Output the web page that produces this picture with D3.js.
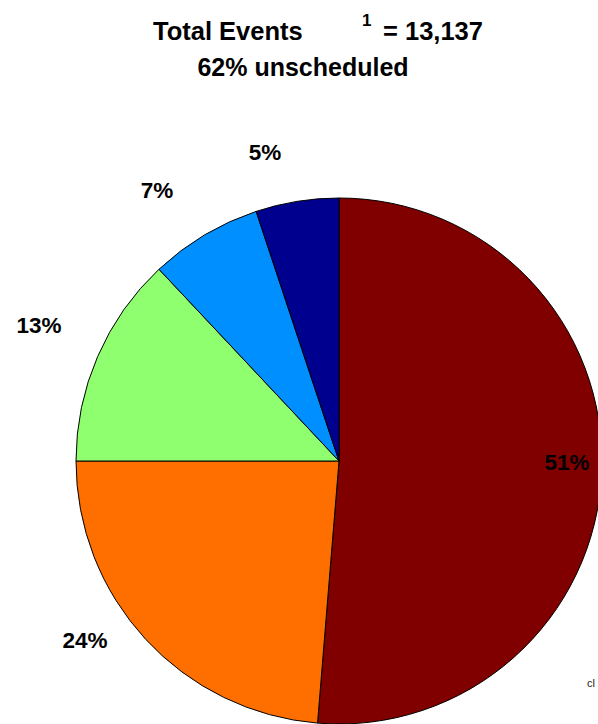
<!DOCTYPE html>
<html><head><meta charset="utf-8">
<script src="https://cdn.jsdelivr.net/npm/d3@7"></script>
<style>body{margin:0;background:#fff;overflow:hidden}</style>
</head><body>
<script>
const categories = ["A","B","C","D","E"];
const values = [51.3, 23.7, 13.0, 6.9, 5.1];
const labels = ["51%","24%","13%","7%","5%"];
const colors = ["#800000","#FF6F00","#8FFF70","#008FFF","#00008F"];
const labelPos = [[567,462],[85,640],[39,325],[157,190],[265,152]];

const W=598,H=724;
const svg=d3.select("body").append("svg").attr("width",W).attr("height",H)
  .style("font-family","Arial, 'Liberation Sans', sans-serif");
const cx=339, cy=461, r=263;
const pie=d3.pie().sort(null).value(d=>d)(values);
const arc=d3.arc().innerRadius(0).outerRadius(r);
const g=svg.append("g").attr("transform",`translate(${cx},${cy})`);
g.selectAll("path").data(pie).join("path")
  .attr("d",arc).attr("fill",(d,i)=>colors[i])
  .attr("stroke","#000").attr("stroke-width",1);

svg.selectAll("text.lab").data(labels).join("text").attr("class","lab")
  .attr("x",(d,i)=>labelPos[i][0]).attr("y",(d,i)=>labelPos[i][1]+8)
  .attr("text-anchor","middle")
  .attr("font-weight","bold").attr("font-size",22.5).text(d=>d);

svg.append("text").attr("x",153).attr("y",40).attr("font-weight","bold").attr("font-size",25.5).text("Total Events");
svg.append("text").attr("x",362).attr("y",26).attr("font-weight","bold").attr("font-size",17).text("1");
svg.append("text").attr("x",383).attr("y",40).attr("font-weight","bold").attr("font-size",25.5).text("= 13,137");
svg.append("text").attr("x",303).attr("y",76).attr("text-anchor","middle").attr("font-weight","bold").attr("font-size",25).text("62% unscheduled");
svg.append("text").attr("x",587).attr("y",687).attr("font-size",11).attr("fill","#222").text("cl");
</script>
</body></html>
